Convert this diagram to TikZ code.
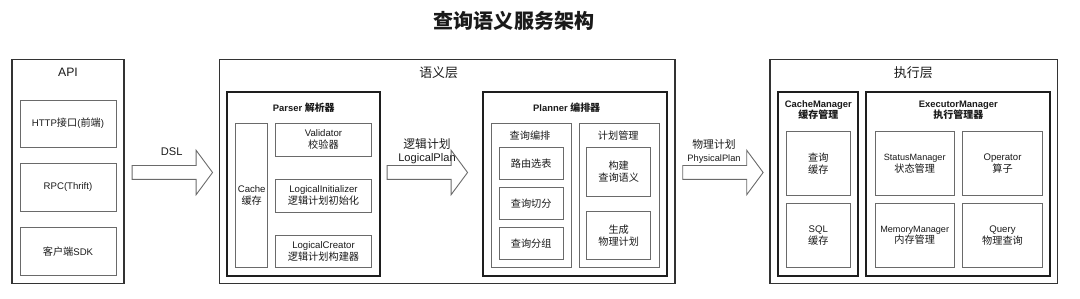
\documentclass[tikz,border=0pt]{standalone}
\usepackage{fontspec}
\setmainfont{Liberation Sans}
\newfontfamily\cjk{Noto Sans CJK SC}[Scale=1.06]
\usepackage{xcolor}
\usetikzlibrary{positioning, shapes.arrows}
\definecolor{layerline}{HTML}{333333}
\definecolor{moduleline}{HTML}{1E1E1E}
\definecolor{unitline}{HTML}{6A6A6A}
\definecolor{textdark}{HTML}{1A1A1A}
\newcommand{\unitfont}{\fontsize{9.6}{11.8}\selectfont}
\newcommand{\narrowlatin}{\fontsize{9.1}{11.8}\selectfont}

\begin{document}
\begin{tikzpicture}[
  x=1pt, y=-1pt,
  layerbox/.style={
    rectangle, draw=layerline, line width=1.3pt, fill=white, inner sep=0pt
  },
  modulebox/.style={
    rectangle, draw=moduleline, line width=1.8pt, inner sep=0pt
  },
  unitbox/.style={
    rectangle, draw=unitline, line width=0.9pt, inner sep=0pt,
    font=\unitfont, align=center, text=textdark
  },
  grouptitle/.style={font=\unitfont, text=textdark, inner sep=0pt},
  flowarrow/.style={
    single arrow, draw=unitline, line width=0.9pt, inner sep=0pt,
    inner ysep=6.5pt, minimum height=80.4pt,
    single arrow head extend=15.2pt, single arrow tip angle=107,
    anchor=tail
  },
  layertitle/.style={font=\fontsize{12.2}{14}\selectfont, text=textdark, inner sep=0pt},
  moduletitle/.style={font=\fontsize{9.4}{11.4}\selectfont\bfseries, text=textdark, align=center, inner sep=0pt},
  flowlabel/.style={font=\fontsize{11.1}{13}\selectfont, text=textdark, inner sep=0pt},
]
\useasboundingbox (0,0) rectangle (1080,299);

\node[font=\fontsize{18.9}{22}\selectfont\bfseries, text=textdark] (title) at (514,20.5) {\cjk 查询语义服务架构};

% API layer
\node[layerbox, minimum width=112pt, minimum height=224pt] (api) at (68,171.3) {};
\node[layertitle] (apititle) at (68,72.7) {API};
\node[unitbox, minimum width=96pt, minimum height=47pt] (http) at (68,123.5) {HTTP{\cjk 接口}({\cjk 前端})};
\node[unitbox, minimum width=96pt, minimum height=48pt] (rpc) at (68,187.5) {RPC(Thrift)};
\node[unitbox, minimum width=96pt, minimum height=48pt] (sdk) at (68,251.7) {{\cjk 客户端}SDK};

% Semantic layer
\node[layerbox, minimum width=455.7pt, minimum height=224pt] (semantic) at (447.2,171.3) {};
\node[layertitle] (semantictitle) at (438.7,72.7) {\cjk 语义层};

\node[modulebox, minimum width=152.7pt, minimum height=184pt] (parser) at (303.7,183.7) {};
\node[moduletitle] (parsertitle) at (303.8,107.3) {Parser {\cjk 解析器}};
\node[unitbox, minimum width=32pt, minimum height=144pt] (cache) at (251.7,195.3) {Cache\\{\cjk 缓存}};
\node[unitbox, minimum width=96.4pt, minimum height=32.7pt] (validator) at (323.5,139.7) {Validator\\{\cjk 校验器}};
\node[unitbox, minimum width=96.4pt, minimum height=32.7pt] (initializer) at (323.5,195.7) {LogicalInitializer\\{\cjk 逻辑计划初始化}};
\node[unitbox, minimum width=96.4pt, minimum height=32pt] (creator) at (323.5,251.3) {LogicalCreator\\{\cjk 逻辑计划构建器}};

\node[modulebox, minimum width=184.6pt, minimum height=184pt] (planner) at (575,183.7) {};
\node[moduletitle] (plannertitle) at (566.7,107.3) {Planner {\cjk 编排器}};
\node[unitbox, minimum width=80pt, minimum height=144pt] (arrange) at (531,195.3) {};
\node[grouptitle] (arrangetitle) at (530,136) {\cjk 查询编排};
\node[unitbox, minimum width=64.3pt, minimum height=32pt] (route) at (531.2,163.3) {\cjk 路由选表};
\node[unitbox, minimum width=64.3pt, minimum height=32pt] (split) at (531.2,203.3) {\cjk 查询切分};
\node[unitbox, minimum width=64.3pt, minimum height=32pt] (group) at (531.2,243.3) {\cjk 查询分组};
\node[unitbox, minimum width=80pt, minimum height=144pt] (planmgr) at (619,195.3) {};
\node[grouptitle] (planmgrtitle) at (618.3,136) {\cjk 计划管理};
\node[unitbox, minimum width=64pt, minimum height=48.7pt] (build) at (618.7,171.7) {\cjk 构建\\\cjk 查询语义};
\node[unitbox, minimum width=64pt, minimum height=48pt] (generate) at (618.7,235.3) {\cjk 生成\\\cjk 物理计划};

% Execution layer
\node[layerbox, minimum width=287.7pt, minimum height=224pt] (execution) at (913.8,171.3) {};
\node[layertitle] (executiontitle) at (913.3,72.7) {\cjk 执行层};

\node[modulebox, minimum width=80pt, minimum height=184pt] (cachemgr) at (818.3,183.7) {};
\node[moduletitle] (cachemgrtitle) at (818.3,110) {CacheManager\\{\cjk 缓存管理}};
\node[unitbox, minimum width=64.7pt, minimum height=64pt] (querycache) at (818.3,163.7) {\cjk 查询\\\cjk 缓存};
\node[unitbox, minimum width=64.7pt, minimum height=64pt] (sqlcache) at (818.3,235.3) {SQL\\{\cjk 缓存}};

\node[modulebox, minimum width=184pt, minimum height=184pt] (executor) at (958,183.7) {};
\node[moduletitle] (executortitle) at (958.3,110) {ExecutorManager\\{\cjk 执行管理器}};
\node[unitbox, minimum width=79.3pt, minimum height=64pt] (status) at (914.7,163.7) {{\narrowlatin StatusManager}\\{\cjk 状态管理}};
\node[unitbox, minimum width=79.6pt, minimum height=64pt] (operator) at (1002.5,163.7) {Operator\\{\cjk 算子}};
\node[unitbox, minimum width=79.3pt, minimum height=64pt] (memory) at (914.7,235.3) {{\narrowlatin MemoryManager}\\{\cjk 内存管理}};
\node[unitbox, minimum width=79.6pt, minimum height=64pt] (query) at (1002.5,235.3) {Query\\{\cjk 物理查询}};

% Flow between layers
\node[flowarrow] (dslarrow) at (131.7,172.5) {};
\node[flowlabel] (dsllabel) at (171.7,151.7) {DSL};
\node[flowarrow] (logicalarrow) at (386.7,172.5) {};
\node[flowlabel] (logicallabel) at (427,144) {\cjk 逻辑计划};
\node[flowlabel] (logicalplan) at (427,158.3) {LogicalPlan};
\node[flowarrow] (physicalarrow) at (682.3,172.5) {};
\node[flowlabel, font=\fontsize{10.2}{13}\selectfont] (physicallabel) at (714,144) {\cjk 物理计划};
\node[flowlabel, font=\fontsize{9.3}{11}\selectfont] (physicalplan) at (714,158.8) {PhysicalPlan};

\end{tikzpicture}
\end{document}
